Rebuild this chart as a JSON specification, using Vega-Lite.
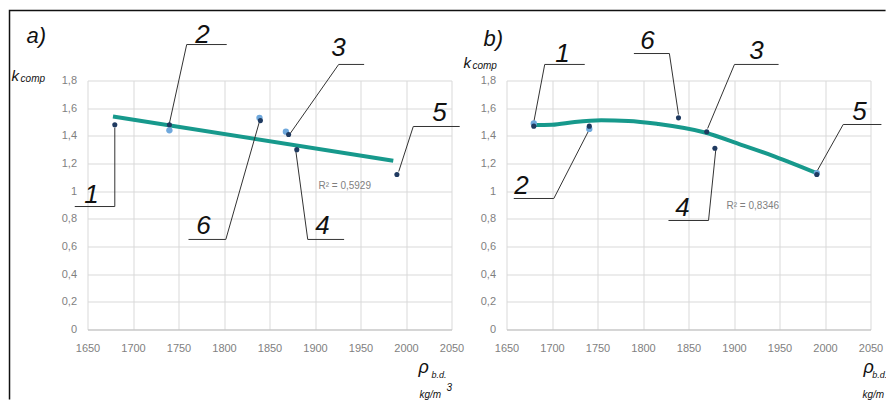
{
  "$schema": "https://vega.github.io/schema/vega-lite/v6.json",
  "background": "white",
  "padding": {"left": 6.5, "top": 7.5, "right": 0, "bottom": 0},
  "spacing": 55,
  "bounds": "flush",
  "config": {
    "view": {"stroke": null},
    "font": "Liberation Sans",
    "axis": {
      "grid": true, "gridColor": "#d9d9d9", "gridWidth": 1,
      "ticks": false, "labelColor": "#7f7f7f", "labelFontSize": 11,
      "labelFont": "Liberation Sans", "title": null, "labelOverlap": false, "labelFlush": false
    },
    "text": {"font": "Liberation Sans", "align": "left", "baseline": "alphabetic"}
  },
  "hconcat": [
    {
      "width": 364, "height": 249,
      "encoding": {
        "x": {"field": "x", "type": "quantitative",
              "scale": {"domain": [1650, 2050], "nice": false, "zero": false},
              "axis": {"values": [1650,1700,1750,1800,1850,1900,1950,2000,2050], "format": "d", "domain": true, "domainColor": "#bfbfbf", "labelPadding": 13}},
        "y": {"field": "y", "type": "quantitative",
              "scale": {"domain": [0, 1.8], "nice": false, "zero": false},
              "axis": {"values": [0,0.2,0.4,0.6,0.8,1,1.2,1.4,1.6,1.8], "domain": false, "labelPadding": 11,
                       "labelExpr": "replace(format(datum.value, '~g'), '.', ',')"}}
      },
      "layer": [
        {"data": {"values": [{"id": "F", "o": 1, "x": 1564.3, "y": -0.506}, {"id": "F", "o": 2, "x": 1564.3, "y": 2.306}, {"id": "F", "o": 3, "x": 2527, "y": 2.306}]},
         "mark": {"type": "line", "color": "#111111", "strokeWidth": 1.5},
         "encoding": {"detail": {"field": "id"}, "order": {"field": "o"}}},
        {"data": {"values": [{"x": 1678, "y": 1.54}, {"x": 1986, "y": 1.22}]},
         "mark": {"type": "line", "color": "#17998c", "strokeWidth": 4},
         "encoding": {}},
        {"data": {"values": [
          {"id": "1", "o": 1, "x": 1636, "y": 0.889}, {"id": "1", "o": 2, "x": 1680, "y": 0.889}, {"id": "1", "o": 3, "x": 1680, "y": 1.46},
          {"id": "2", "o": 1, "x": 1803, "y": 2.06}, {"id": "2", "o": 2, "x": 1759, "y": 2.06}, {"id": "2", "o": 3, "x": 1740, "y": 1.49},
          {"id": "3", "o": 1, "x": 1954, "y": 1.916}, {"id": "3", "o": 2, "x": 1926, "y": 1.916}, {"id": "3", "o": 3, "x": 1872, "y": 1.41},
          {"id": "5", "o": 1, "x": 2059, "y": 1.4675}, {"id": "5", "o": 2, "x": 2008, "y": 1.4675}, {"id": "5", "o": 3, "x": 1992, "y": 1.142},
          {"id": "6", "o": 1, "x": 1761, "y": 0.651}, {"id": "6", "o": 2, "x": 1802, "y": 0.651}, {"id": "6", "o": 3, "x": 1839, "y": 1.504},
          {"id": "4", "o": 1, "x": 1932, "y": 0.651}, {"id": "4", "o": 2, "x": 1892, "y": 0.651}, {"id": "4", "o": 3, "x": 1879, "y": 1.287}
         ]},
         "mark": {"type": "line", "color": "#333333", "strokeWidth": 1},
         "encoding": {"detail": {"field": "id"}, "order": {"field": "o"}}},
        {"data": {"values": [{"x": 1740, "y": 1.44}, {"x": 1839, "y": 1.53}, {"x": 1868, "y": 1.43}]},
         "mark": {"type": "circle", "color": "#6fa8dc", "opacity": 1, "size": 40}},
        {"data": {"values": [{"x": 1680, "y": 1.48}, {"x": 1740, "y": 1.48}, {"x": 1840, "y": 1.51}, {"x": 1871, "y": 1.41}, {"x": 1880, "y": 1.3}, {"x": 1990, "y": 1.12}]},
         "mark": {"type": "circle", "color": "#1f3a60", "opacity": 1, "size": 26}},
        {"data": {"values": [
          {"t": "1", "x": 1654.4, "y": 0.911}, {"t": "2", "x": 1776.4, "y": 2.068}, {"t": "3", "x": 1925.8, "y": 1.974},
          {"t": "5", "x": 2036.8, "y": 1.504}, {"t": "6", "x": 1777.5, "y": 0.687}, {"t": "4", "x": 1908.2, "y": 0.687}]},
         "mark": {"type": "text", "fontSize": 26, "fontStyle": "italic", "align": "center", "color": "#111111"},
         "encoding": {"text": {"field": "t"}}},
        {"data": {"values": [{"t": "a)", "x": 1583, "y": 2.068}]},
         "mark": {"type": "text", "fontSize": 22, "fontStyle": "italic", "color": "#111111"},
         "encoding": {"text": {"field": "t"}}},
        {"data": {"values": [{"t": "k", "x": 1566.5, "y": 1.793}]},
         "mark": {"type": "text", "fontSize": 15, "fontStyle": "italic", "color": "#111111"},
         "encoding": {"text": {"field": "t"}}},
        {"data": {"values": [{"t": "comp", "x": 1576.5, "y": 1.786}, {"t": "kg/m", "x": 2014.8, "y": -0.4916}, {"t": "3", "x": 2044.5, "y": -0.448}]},
         "mark": {"type": "text", "fontSize": 10, "fontStyle": "italic", "color": "#111111"},
         "encoding": {"text": {"field": "t"}}},
        {"data": {"values": [{"t": "ρ", "x": 2013.7, "y": -0.311}]},
         "mark": {"type": "text", "fontSize": 18, "fontStyle": "italic", "color": "#111111"},
         "encoding": {"text": {"field": "t"}}},
        {"data": {"values": [{"t": "b.d.", "x": 2028, "y": -0.347}]},
         "mark": {"type": "text", "fontSize": 9, "fontStyle": "italic", "color": "#111111"},
         "encoding": {"text": {"field": "t"}}},
        {"data": {"values": [{"t": "R² = 0,5929", "x": 1903.8, "y": 1.019}]},
         "mark": {"type": "text", "fontSize": 10, "color": "#7f7f7f"},
         "encoding": {"text": {"field": "t"}}}
      ]
    },
    {
      "width": 364, "height": 249,
      "encoding": {
        "x": {"field": "x", "type": "quantitative",
              "scale": {"domain": [1650, 2050], "nice": false, "zero": false},
              "axis": {"values": [1650,1700,1750,1800,1850,1900,1950,2000,2050], "format": "d", "domain": true, "domainColor": "#bfbfbf", "labelPadding": 13}},
        "y": {"field": "y", "type": "quantitative",
              "scale": {"domain": [0, 1.8], "nice": false, "zero": false},
              "axis": {"values": [0,0.2,0.4,0.6,0.8,1,1.2,1.4,1.6,1.8], "domain": false, "labelPadding": 11,
                       "labelExpr": "replace(format(datum.value, '~g'), '.', ',')"}}
      },
      "layer": [
        {"data": {"values": [{"x": 1679, "y": 1.478}, {"x": 1700, "y": 1.48}, {"x": 1725, "y": 1.5}, {"x": 1754, "y": 1.512}, {"x": 1784, "y": 1.508}, {"x": 1817, "y": 1.485}, {"x": 1868, "y": 1.424}, {"x": 1908, "y": 1.335}, {"x": 1945, "y": 1.25}, {"x": 1991, "y": 1.13}]},
         "mark": {"type": "line", "color": "#17998c", "strokeWidth": 4, "interpolate": "monotone"},
         "encoding": {}},
        {"data": {"values": [
          {"id": "1", "o": 1, "x": 1736, "y": 1.916}, {"id": "1", "o": 2, "x": 1692, "y": 1.916}, {"id": "1", "o": 3, "x": 1680, "y": 1.5},
          {"id": "2", "o": 1, "x": 1658, "y": 0.947}, {"id": "2", "o": 2, "x": 1702, "y": 0.947}, {"id": "2", "o": 3, "x": 1741, "y": 1.446},
          {"id": "6", "o": 1, "x": 1790, "y": 1.995}, {"id": "6", "o": 2, "x": 1829, "y": 1.995}, {"id": "6", "o": 3, "x": 1839, "y": 1.554},
          {"id": "3", "o": 1, "x": 1949, "y": 1.916}, {"id": "3", "o": 2, "x": 1900.5, "y": 1.916}, {"id": "3", "o": 3, "x": 1871, "y": 1.453},
          {"id": "5", "o": 1, "x": 2062, "y": 1.482}, {"id": "5", "o": 2, "x": 2020, "y": 1.482}, {"id": "5", "o": 3, "x": 1991, "y": 1.142},
          {"id": "4", "o": 1, "x": 1828, "y": 0.788}, {"id": "4", "o": 2, "x": 1872, "y": 0.788}, {"id": "4", "o": 3, "x": 1880, "y": 1.301}
         ]},
         "mark": {"type": "line", "color": "#333333", "strokeWidth": 1},
         "encoding": {"detail": {"field": "id"}, "order": {"field": "o"}}},
        {"data": {"values": [{"x": 1680, "y": 1.49}, {"x": 1741, "y": 1.45}, {"x": 1991, "y": 1.13}]},
         "mark": {"type": "circle", "color": "#6fa8dc", "opacity": 1, "size": 40}},
        {"data": {"values": [{"x": 1680, "y": 1.47}, {"x": 1741, "y": 1.47}, {"x": 1839, "y": 1.53}, {"x": 1870, "y": 1.43}, {"x": 1879, "y": 1.31}, {"x": 1991, "y": 1.12}]},
         "mark": {"type": "circle", "color": "#1f3a60", "opacity": 1, "size": 26}},
        {"data": {"values": [
          {"t": "1", "x": 1711.5, "y": 1.937}, {"t": "6", "x": 1805, "y": 2.031}, {"t": "3", "x": 1924.7, "y": 1.952},
          {"t": "5", "x": 2037.9, "y": 1.518}, {"t": "2", "x": 1666.5, "y": 0.983}, {"t": "4", "x": 1843.4, "y": 0.817}]},
         "mark": {"type": "text", "fontSize": 26, "fontStyle": "italic", "align": "center", "color": "#111111"},
         "encoding": {"text": {"field": "t"}}},
        {"data": {"values": [{"t": "b)", "x": 1624.7, "y": 2.053}]},
         "mark": {"type": "text", "fontSize": 22, "fontStyle": "italic", "color": "#111111"},
         "encoding": {"text": {"field": "t"}}},
        {"data": {"values": [{"t": "k", "x": 1602.7, "y": 1.887}]},
         "mark": {"type": "text", "fontSize": 15, "fontStyle": "italic", "color": "#111111"},
         "encoding": {"text": {"field": "t"}}},
        {"data": {"values": [{"t": "comp", "x": 1612.5, "y": 1.88}, {"t": "kg/m", "x": 2041.2, "y": -0.4916}]},
         "mark": {"type": "text", "fontSize": 10, "fontStyle": "italic", "color": "#111111"},
         "encoding": {"text": {"field": "t"}}},
        {"data": {"values": [{"t": "ρ", "x": 2042.3, "y": -0.311}]},
         "mark": {"type": "text", "fontSize": 18, "fontStyle": "italic", "color": "#111111"},
         "encoding": {"text": {"field": "t"}}},
        {"data": {"values": [{"t": "b.d.", "x": 2052, "y": -0.347}]},
         "mark": {"type": "text", "fontSize": 9, "fontStyle": "italic", "color": "#111111"},
         "encoding": {"text": {"field": "t"}}},
        {"data": {"values": [{"t": "R² = 0,8346", "x": 1891.8, "y": 0.8675}]},
         "mark": {"type": "text", "fontSize": 10, "color": "#7f7f7f"},
         "encoding": {"text": {"field": "t"}}}
      ]
    }
  ]
}
